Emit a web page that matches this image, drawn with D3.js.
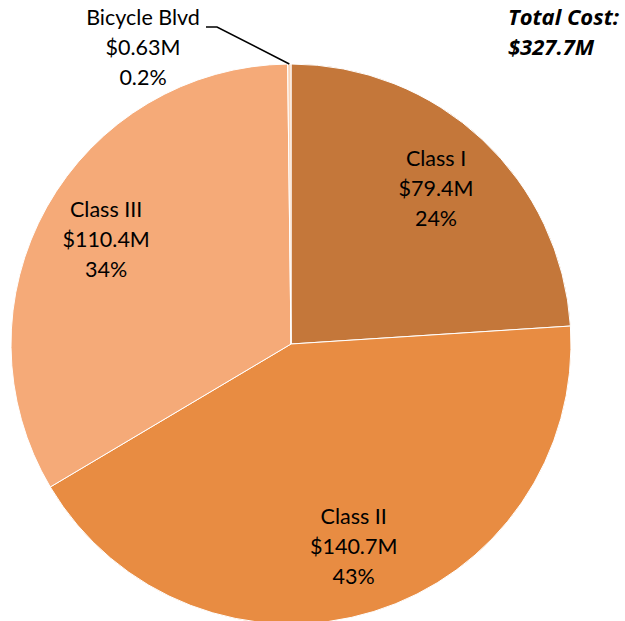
<!DOCTYPE html>
<html>
<head>
<meta charset="utf-8">
<script src="https://cdn.jsdelivr.net/npm/d3@7"></script>
<style>
body { margin: 0; background: white; }
svg text { font-family: Lato, "Open Sans", sans-serif; }
</style>
</head>
<body>
<svg id="chart"></svg>
<script>
const categories = ["Class I", "Class II", "Class III", "Bicycle Blvd"]
const costs = [79.4, 140.7, 110.4, 0.63]
const costLabels = ["$79.4M", "$140.7M", "$110.4M", "$0.63M"]
const pctLabels = ["24%", "43%", "34%", "0.2%"]
const colors = ["#c4773a", "#e88c42", "#f5aa78", "#fad3b6"]

const width = 625, height = 621
const cx = 291, cy = 344, R = 280

const svg = d3.select("#chart")
  .attr("width", width)
  .attr("height", height)

const data = categories.map((c, i) => ({name: c, value: costs[i], cost: costLabels[i], pct: pctLabels[i], color: colors[i]}))

const pie = d3.pie().sort(null).value(d => d.value)
const arcs = pie(data)

const arc = d3.arc().innerRadius(0).outerRadius(R)
const labelArc = d3.arc().innerRadius(212).outerRadius(212)

const g = svg.append("g").attr("transform", "translate(" + cx + "," + cy + ")")

g.selectAll("path")
  .data(arcs)
  .enter()
  .append("path")
  .attr("d", arc)
  .attr("fill", d => d.data.color)
  .style("stroke", "white")
  .style("stroke-width", "1px")

// labels inside the big slices
const inside = g.selectAll("text.lab")
  .data(arcs.filter(d => d.data.name !== "Bicycle Blvd"))
  .enter()
  .append("text")
  .attr("class", "lab")
  .attr("text-anchor", "middle")
  .attr("font-size", "21.5px")
  .attr("fill", "black")
  .attr("transform", d => "translate(" + labelArc.centroid(d) + ")")

inside.each(function(d) {
  const t = d3.select(this)
  const lines = [d.data.name, d.data.cost, d.data.pct]
  lines.forEach((l, i) => {
    t.append("tspan").attr("x", 0).attr("y", (i - 1) * 30 + 7).text(l)
  })
})

// small slice gets a leader line
const small = arcs[3]
const sa = (small.startAngle + small.endAngle) / 2
const px = R * Math.sin(sa), py = -R * Math.cos(sa)
svg.append("path")
  .attr("d", d3.line()([[206, 27], [217, 27], [cx + px, cy + py]]))
  .attr("fill", "none")
  .style("stroke", "black")
  .style("stroke-width", "1.5px")

const smallText = svg.append("text")
  .attr("text-anchor", "middle")
  .attr("font-size", "21.5px")
  .attr("fill", "black")
;[small.data.name, small.data.cost, small.data.pct].forEach((l, i) => {
  smallText.append("tspan").attr("x", 143).attr("y", 25 + i * 30).text(l)
})

// total
const total = svg.append("text")
  .attr("text-anchor", "start")
  .attr("font-size", "22px")
  .attr("font-weight", "bold")
  .attr("font-style", "italic")
  .attr("fill", "black")
  .style("font-family", "'Open Sans', sans-serif")
total.append("tspan").attr("x", 508).attr("y", 25).text("Total Cost:")
total.append("tspan").attr("x", 508).attr("y", 55).text("$327.7M")
</script>
</body>
</html>
